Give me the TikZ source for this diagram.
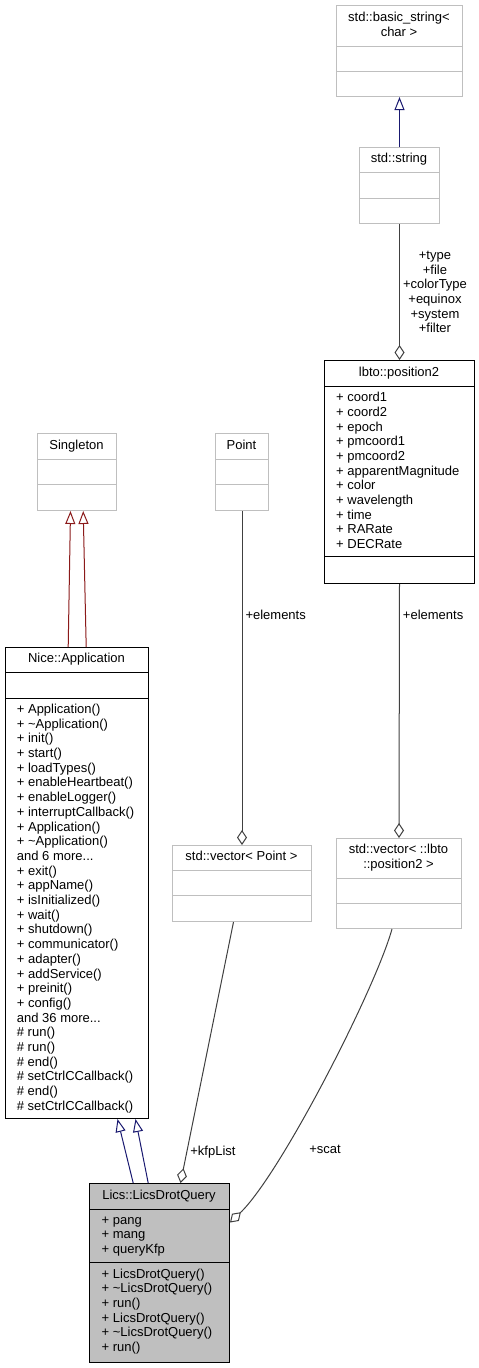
\documentclass[tikz,border=0pt]{standalone}
\usepackage{fontspec}
\setmainfont{Liberation Sans}
\usetikzlibrary{arrows.meta}

\definecolor{inhblue}{HTML}{191970}
\definecolor{inhred}{HTML}{8B1A1A}
\definecolor{usegrey}{HTML}{404040}
\definecolor{boxgrey}{HTML}{BFBFBF}

\newcommand{\moredots}{...}

\tikzset{
  klass/.style={draw=black, line width=1pt, fill=white, inner sep=0pt, anchor=north west},
  extklass/.style={klass, draw=boxgrey},
  hiklass/.style={klass, fill=boxgrey},
  ktitle/.style={anchor=base, inner sep=0pt, font=\fontsize{13}{14.7}\selectfont},
  member/.style={anchor=base west, inner sep=0pt, font=\fontsize{13}{14.7}\selectfont},
  rel/.style={anchor=west, inner sep=3pt, align=center, font=\fontsize{13}{14.6}\selectfont},
  pubinh/.style={draw=inhblue, line width=1pt, -{Triangle[open, length=13pt, width=10pt]}},
  privinh/.style={pubinh, draw=inhred},
  usage/.style={draw=usegrey, line width=1pt, -{Diamond[open, length=15pt, width=10pt]}},
}

\begin{document}
\begin{tikzpicture}[x=1pt, y=-1pt]
\useasboundingbox (0,0) rectangle (479,1368);

% std::basic_string< char >
\node[extklass, minimum width=126pt, minimum height=91pt] (bstr) at (336,5) {};
\foreach \y in {46,71} \draw[boxgrey, line width=1pt] (336,\y) -- (462,\y);
\node[ktitle] (bstr-t1) at (399,21.5) {std::basic\_string<};
\node[ktitle] (bstr-t2) at (399,36.2) {char >};

% std::string
\node[extklass, minimum width=80pt, minimum height=76pt] (str) at (359,147) {};
\foreach \y in {172.5,198} \draw[boxgrey, line width=1pt] (359,\y) -- (439,\y);
\node[ktitle] (str-t) at (399,162.7) {std::string};

% lbto::position2
\node[klass, minimum width=150pt, minimum height=223pt] (pos2) at (324,360) {};
\foreach \y in {386.5,556.5} \draw[line width=1pt] (324,\y) -- (474,\y);
\node[ktitle] (pos2-t) at (399,376.2) {lbto::position2};
\foreach \m [count=\k from 0] in {+ coord1, + coord2, + epoch, + pmcoord1, + pmcoord2,
    + apparentMagnitude, + color, + wavelength, + time, + RARate, + DECRate}
  \node[member] (pos2-a\k) at (336,{401.6+14.7*\k}) {\m};

% Singleton and Point
\node[extklass, minimum width=79pt, minimum height=77pt] (sing) at (37,433) {};
\foreach \y in {459,484.5} \draw[boxgrey, line width=1pt] (37,\y) -- (116,\y);
\node[ktitle] (sing-t) at (76.5,449) {Singleton};
\node[extklass, minimum width=53pt, minimum height=77pt] (pt) at (215,433) {};
\foreach \y in {459,484.5} \draw[boxgrey, line width=1pt] (215,\y) -- (268,\y);
\node[ktitle] (pt-t) at (241.5,449) {Point};

% Nice::Application
\node[klass, minimum width=143pt, minimum height=471pt] (app) at (5,647) {};
\foreach \y in {672.7,698.3} \draw[line width=1pt] (5,\y) -- (148,\y);
\node[ktitle] (app-t) at (76.5,662.7) {Nice::Application};
\foreach \m [count=\k from 0] in {+ Application(), + \textasciitilde Application(), + init(),
    + start(), + loadTypes(), + enableHeartbeat(), + enableLogger(), + interruptCallback(),
    + Application(), + \textasciitilde Application(), and 6 more\moredots, + exit(), + appName(),
    + isInitialized(), + wait(), + shutdown(), + communicator(), + adapter(), + addService(),
    + preinit(), + config(), and 36 more\moredots, \# run(), \# run(), \# end(),
    \# setCtrlCCallback(), \# end(), \# setCtrlCCallback()}
  \node[member] (app-m\k) at (16.7,{713.4+14.7*\k}) {\m};

% the two vectors
\node[extklass, minimum width=139pt, minimum height=76pt] (vpt) at (172,845) {};
\foreach \y in {870,895.7} \draw[boxgrey, line width=1pt] (172,\y) -- (311,\y);
\node[ktitle] (vpt-t) at (241.5,860.5) {std::vector< Point >};
\node[extklass, minimum width=125pt, minimum height=90pt] (vpos) at (336,838) {};
\foreach \y in {878,903} \draw[boxgrey, line width=1pt] (336,\y) -- (461,\y);
\node[ktitle] (vpos-t1) at (398.5,853.6) {std::vector< ::lbto};
\node[ktitle] (vpos-t2) at (398.5,868.3) {::position2 >};

% Lics::LicsDrotQuery
\node[hiklass, minimum width=140pt, minimum height=179pt] (lics) at (89,1183) {};
\foreach \y in {1209,1262.5} \draw[line width=1pt] (89,\y) -- (229,\y);
\node[ktitle] (lics-t) at (159,1199) {Lics::LicsDrotQuery};
\foreach \m [count=\k from 0] in {+ pang, + mang, + queryKfp}
  \node[member] (lics-a\k) at (101.5,{1224.1+14.7*\k}) {\m};
\foreach \m [count=\k from 0] in {+ LicsDrotQuery(), + \textasciitilde LicsDrotQuery(), + run(),
    + LicsDrotQuery(), + \textasciitilde LicsDrotQuery(), + run()}
  \node[member] (lics-m\k) at (101.5,{1278+14.7*\k}) {\m};

% inheritance
\draw[pubinh] (str.north) -- (bstr.south);
\draw[privinh] ([xshift=-8.8pt]app.north) -- ([xshift=-6.5pt]sing.south);
\draw[privinh] ([xshift=9.2pt]app.north) -- ([xshift=6.2pt]sing.south);
\draw[pubinh] ([xshift=-26.3pt]lics.north) -- ([xshift=40.5pt]app.south);
\draw[pubinh] ([xshift=-11.3pt]lics.north) -- ([xshift=58.5pt]app.south);

% usage
\draw[usage] (str.south) -- node[rel] (str-l) {+type\\+file\\+colorType\\+equinox\\+system\\+filter} (pos2.north);
\draw[usage] (pt.south) -- node[rel, pos=0.31] (pt-l) {+elements} (vpt.north);
\draw[usage] (pos2.south) -- node[rel, pos=0.12] (pos2-l) {+elements} (vpos.north);
\draw[usage] ([xshift=-8.5pt]vpt.south) -- node[rel, pos=0.88] (vpt-l) {+kfpList} ([xshift=21pt]lics.north);
\draw[usage] ([xshift=-7pt]vpos.south) .. controls (375,990) and (280,1175) .. ([yshift=50.5pt]lics.east)
  node[rel, pos=0.7, xshift=22pt] (vpos-l) {+scat};

\end{tikzpicture}
\end{document}
